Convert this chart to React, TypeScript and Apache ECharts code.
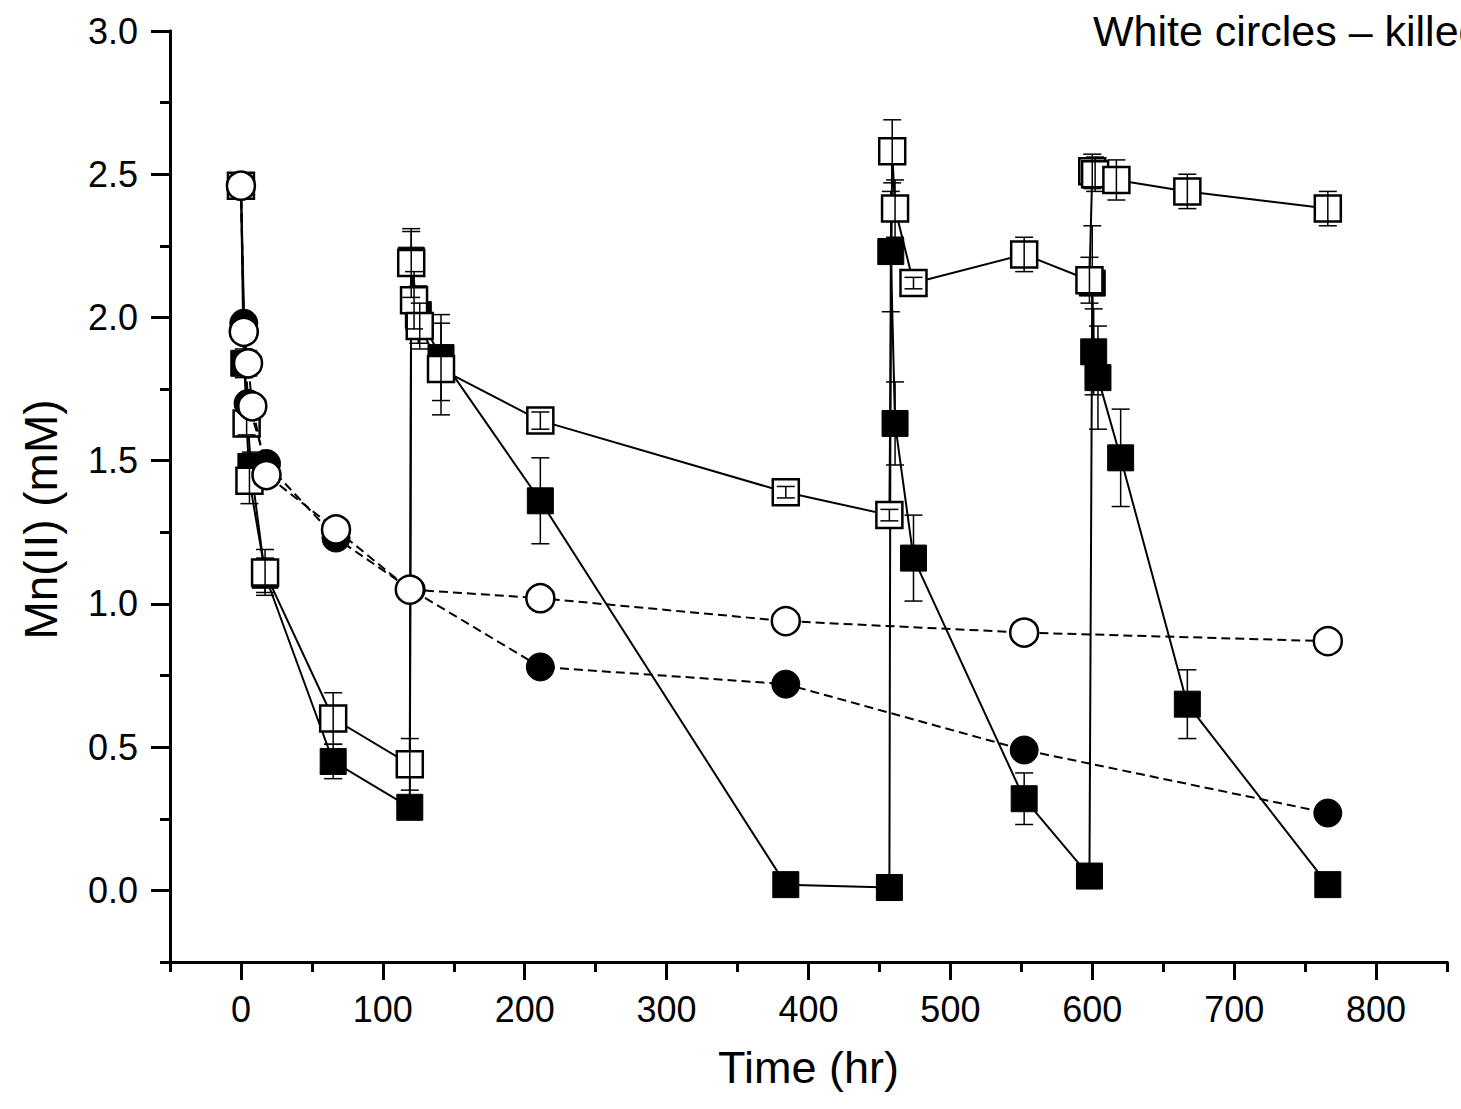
import React, { useEffect, useRef } from "react";
import * as echarts from "echarts";

// Filled squares
const tFilledSq = [0, 2, 7, 17, 65, 119, 120, 125, 141, 211, 384, 457, 458, 461, 474, 552, 598, 600, 601, 604, 620, 667, 766];
const vFilledSq = [2.46, 1.84, 1.48, 1.10, 0.45, 0.29, 2.20, 2.01, 1.86, 1.36, 0.02, 0.01, 2.23, 1.63, 1.16, 0.32, 0.05, 2.12, 1.88, 1.79, 1.51, 0.65, 0.02];
const eFilledSq = [0.02, 0.05, 0.05, 0.06, 0.06, 0.04, 0.1, 0.1, 0.15, 0.15, 0.02, 0.02, 0.21, 0.145, 0.15, 0.09, 0.03, 0.2, 0.15, 0.18, 0.17, 0.12, 0.03];

// Open squares
const tOpenSq = [0, 4, 6, 17, 65, 119, 120, 122, 126, 141, 211, 384, 457, 459, 461, 474, 552, 598, 600, 602, 617, 667, 766];
const vOpenSq = [2.46, 1.63, 1.43, 1.11, 0.60, 0.44, 2.19, 2.06, 1.97, 1.82, 1.64, 1.39, 1.31, 2.58, 2.38, 2.12, 2.22, 2.13, 2.51, 2.50, 2.48, 2.44, 2.38];
const eOpenSq = [0.01, 0.04, 0.08, 0.08, 0.09, 0.09, 0.12, 0.1, 0.08, 0.16, 0.03, 0.02, 0.02, 0.11, 0.1, 0.02, 0.06, 0.08, 0.06, 0.06, 0.07, 0.06, 0.06];

// Filled circles
const tFilledCi = [0, 2, 5, 18, 67, 120, 211, 384, 552, 766];
const vFilledCi = [2.46, 1.98, 1.70, 1.49, 1.23, 1.05, 0.78, 0.72, 0.49, 0.27];

// Open circles (killed)
const tOpenCi = [0, 2, 5, 8, 18, 67, 119, 211, 384, 552, 766];
const vOpenCi = [2.46, 1.95, 1.84, 1.69, 1.45, 1.26, 1.05, 1.02, 0.94, 0.90, 0.87];

const xMajor = [0, 100, 200, 300, 400, 500, 600, 700, 800];
const yMajor = [0, 0.5, 1.0, 1.5, 2.0, 2.5, 3.0];

const annotation = "White circles – killed";

const FONT = "'Liberation Sans', Arial, sans-serif";

const zip = (t: number[], v: number[]) => t.map((x, i) => [x, v[i]]);
const zip3 = (t: number[], v: number[], e: number[]) => t.map((x, i) => [x, v[i], e[i]]);

const errRender = (params: any, api: any) => {
  const x = api.value(0);
  const y = api.value(1);
  const e = api.value(2);
  const top = api.coord([x, y + e]);
  const bot = api.coord([x, y - e]);
  const hw = 9;
  const style = { stroke: "#000", lineWidth: 1.5 };
  return {
    type: "group",
    children: [
      { type: "line", shape: { x1: top[0], y1: top[1], x2: bot[0], y2: bot[1] }, style },
      { type: "line", shape: { x1: top[0] - hw, y1: top[1], x2: top[0] + hw, y2: top[1] }, style },
      { type: "line", shape: { x1: bot[0] - hw, y1: bot[1], x2: bot[0] + hw, y2: bot[1] }, style },
    ],
  };
};

export default function App() {
  const ref = useRef<HTMLDivElement>(null);
  useEffect(() => {
    if (!ref.current) return;
    const chart = echarts.init(ref.current, undefined, { renderer: "svg" });
    const axisLine = { show: true, onZero: false, lineStyle: { color: "#000", width: 3 } };
    const option: any = {
      animation: false,
      backgroundColor: "#fff",
      grid: { left: 170, right: 14, top: 31, bottom: 147, containLabel: false },
      xAxis: [
        {
          type: "value",
          min: -50,
          max: 850,
          position: "bottom",
          axisLine,
          axisTick: { show: true, inside: false, length: 18, customValues: xMajor, lineStyle: { color: "#000", width: 3 } },
          axisLabel: { show: true, customValues: xMajor, margin: 29, fontSize: 36, color: "#000", fontFamily: FONT },
          splitLine: { show: false },
          name: "Time (hr)",
          nameLocation: "middle",
          nameGap: 83,
          nameTextStyle: { fontSize: 45, color: "#000", fontFamily: FONT },
        },
        {
          type: "value",
          min: -50,
          max: 850,
          interval: 50,
          position: "bottom",
          axisLine,
          axisTick: { show: true, inside: false, length: 10, lineStyle: { color: "#000", width: 3 } },
          axisLabel: { show: false },
          splitLine: { show: false },
        },
      ],
      yAxis: [
        {
          type: "value",
          min: -0.25,
          max: 3.0,
          position: "left",
          axisLine,
          axisTick: { show: true, inside: false, length: 19, customValues: yMajor, lineStyle: { color: "#000", width: 3 } },
          axisLabel: {
            show: true,
            customValues: yMajor,
            margin: 32,
            fontSize: 36,
            color: "#000",
            fontFamily: FONT,
            formatter: (v: number) => v.toFixed(1),
          },
          splitLine: { show: false },
          name: "Mn(II) (mM)",
          nameLocation: "middle",
          nameGap: 106,
          nameRotate: 90,
          nameTextStyle: { fontSize: 46, color: "#000", fontFamily: FONT, padding: [0, 46, 0, 0] },
        },
        {
          type: "value",
          min: -0.25,
          max: 3.0,
          interval: 0.25,
          position: "left",
          axisLine,
          axisTick: { show: true, inside: false, length: 10, lineStyle: { color: "#000", width: 3 } },
          axisLabel: { show: false },
          splitLine: { show: false },
        },
      ],
      graphic: [
        {
          type: "text",
          left: 1093,
          top: 9,
          style: { text: annotation, fontSize: 43, fill: "#000", fontFamily: FONT },
          z: 100,
        },
      ],
      series: [
        {
          type: "line",
          name: "filledSq",
          data: zip(tFilledSq, vFilledSq),
          symbol: "rect",
          symbolSize: 26,
          lineStyle: { color: "#000", width: 2 },
          itemStyle: { color: "#000", borderColor: "#000", borderWidth: 1 },
          z: 2,
        },
        {
          type: "custom",
          name: "filledSqErr",
          data: zip3(tFilledSq, vFilledSq, eFilledSq),
          renderItem: errRender,
          z: 3,
        },
        {
          type: "line",
          name: "openSq",
          data: zip(tOpenSq, vOpenSq),
          symbol: "rect",
          symbolSize: 26,
          lineStyle: { color: "#000", width: 2 },
          itemStyle: { color: "#fff", borderColor: "#000", borderWidth: 2.5 },
          z: 4,
        },
        {
          type: "custom",
          name: "openSqErr",
          data: zip3(tOpenSq, vOpenSq, eOpenSq),
          renderItem: errRender,
          z: 5,
        },
        {
          type: "line",
          name: "filledCi",
          data: zip(tFilledCi, vFilledCi),
          symbol: "circle",
          symbolSize: 28,
          lineStyle: { color: "#000", width: 2, type: [9, 5] },
          itemStyle: { color: "#000", borderColor: "#000", borderWidth: 1 },
          z: 6,
        },
        {
          type: "line",
          name: "openCi",
          data: zip(tOpenCi, vOpenCi),
          symbol: "circle",
          symbolSize: 28,
          lineStyle: { color: "#000", width: 2, type: [9, 5] },
          itemStyle: { color: "#fff", borderColor: "#000", borderWidth: 2.5 },
          z: 7,
        },
      ],
    };
    chart.setOption(option);
    return () => chart.dispose();
  }, []);
  return (
    <div
      ref={ref}
      style={{ position: "fixed", left: 0, top: 0, width: 1461, height: 1109, background: "#fff" }}
    />
  );
}
